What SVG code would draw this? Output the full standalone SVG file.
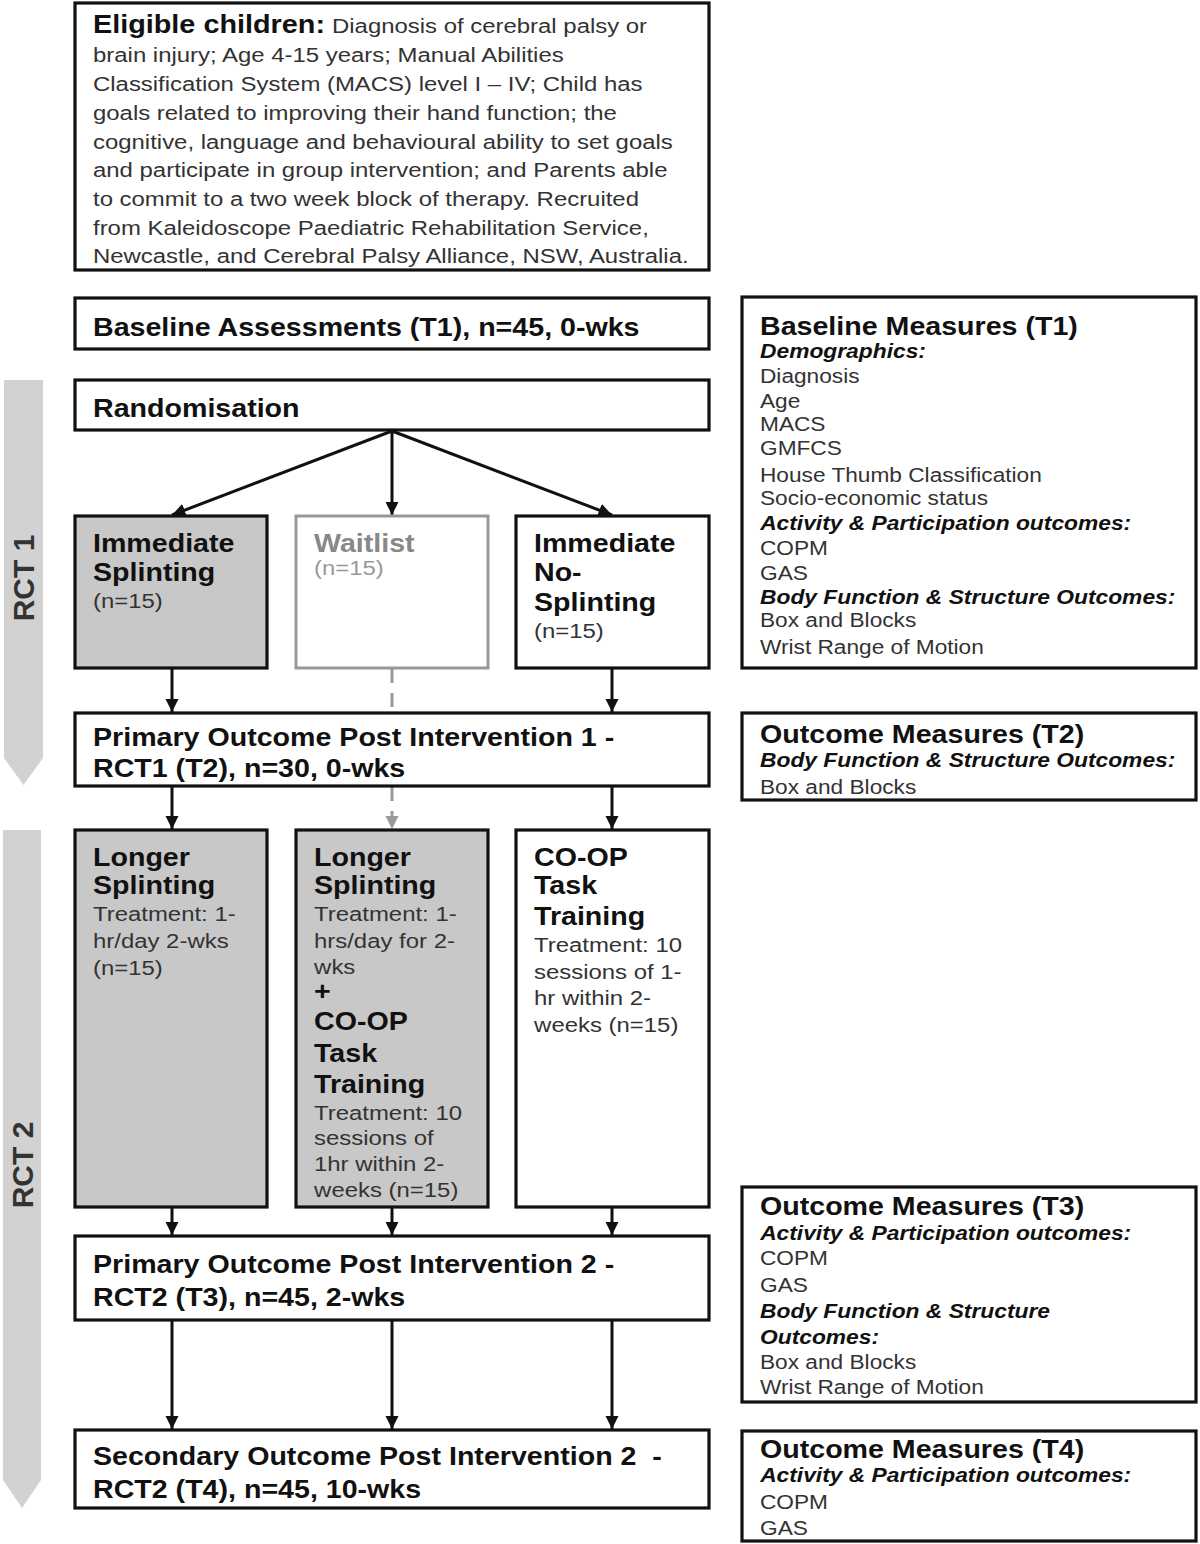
<svg xmlns="http://www.w3.org/2000/svg" width="1200" height="1544" viewBox="0 0 1200 1544">
<style>
text{font-family:"Liberation Sans",Arial,sans-serif;}
.box{fill:#fff;stroke:#111;stroke-width:3.2;}
.grey{fill:#c8c8c8;stroke:#111;stroke-width:3.2;}
.wait{fill:#fff;stroke:#999;stroke-width:3;}
.h,.t,.r,.bi,.e{transform-box:fill-box;transform-origin:0 0;}
.h{font-size:26px;font-weight:bold;fill:#111;transform:scaleX(1.1);}
.e{font-size:25.5px;font-weight:bold;fill:#111;transform:scaleX(1.13);}
.t{font-size:21px;fill:#333;transform:scaleX(1.14);}
.r{font-size:21px;fill:#333;transform:scaleX(1.08);}
.bi{font-size:20px;font-weight:bold;font-style:italic;fill:#111;transform:scaleX(1.14);}
.c{stroke:#111;stroke-width:3;fill:none;}
.dash{stroke:#999;stroke-width:3;fill:none;stroke-dasharray:14,10;}
.band{fill:#d2d2d2;}
.rct{font-size:30px;font-weight:bold;fill:#333;}
</style>
<defs>
<marker id="ah" viewBox="0 0 10 10" refX="10" refY="5" markerWidth="4.5" markerHeight="4.5" orient="auto" markerUnits="strokeWidth"><path d="M0,0 L10,5 L0,10 z" fill="#111"/></marker>
<marker id="ahg" viewBox="0 0 10 10" refX="10" refY="5" markerWidth="4.5" markerHeight="4.5" orient="auto" markerUnits="strokeWidth"><path d="M0,0 L10,5 L0,10 z" fill="#999"/></marker>
</defs>

<g id="rct1">
<path class="band" d="M4,380 H43 V758 L23.5,785 L4,758 Z"/>
<text class="rct" transform="translate(34,578) rotate(-90)" text-anchor="middle">RCT 1</text>
</g>
<g id="rct2">
<path class="band" d="M3,830 H41 V1480 L22,1508 L3,1480 Z"/>
<text class="rct" transform="translate(33,1165) rotate(-90)" text-anchor="middle">RCT 2</text>
</g>

<g id="connectors">
<path class="c" d="M392,431 L172,515" marker-end="url(#ah)"/>
<path class="c" d="M392,431 L392,515" marker-end="url(#ah)"/>
<path class="c" d="M392,431 L612,515" marker-end="url(#ah)"/>
<path class="c" d="M172,669 V712" marker-end="url(#ah)"/>
<path class="c" d="M612,669 V712" marker-end="url(#ah)"/>
<path class="dash" d="M392,669 V712"/>
<path class="dash" d="M392,787 V829" marker-end="url(#ahg)"/>
<path class="c" d="M172,787 V829" marker-end="url(#ah)"/>
<path class="c" d="M612,787 V829" marker-end="url(#ah)"/>
<path class="c" d="M172,1208 V1235" marker-end="url(#ah)"/>
<path class="c" d="M392,1208 V1235" marker-end="url(#ah)"/>
<path class="c" d="M612,1208 V1235" marker-end="url(#ah)"/>
<path class="c" d="M172,1321 V1429" marker-end="url(#ah)"/>
<path class="c" d="M392,1321 V1429" marker-end="url(#ah)"/>
<path class="c" d="M612,1321 V1429" marker-end="url(#ah)"/>
</g>

<g id="eligible">
<rect class="box" x="75" y="3" width="634" height="267"/>
<text class="e" x="93" y="33">Eligible children:</text>
<text class="t" x="332" y="33">Diagnosis of cerebral palsy or</text>
<text class="t" x="93" y="62">brain injury; Age 4-15 years; Manual Abilities</text>
<text class="t" x="93" y="91">Classification System (MACS) level I – IV; Child has</text>
<text class="t" x="93" y="120">goals related to improving their hand function; the</text>
<text class="t" x="93" y="149">cognitive, language and behavioural ability to set goals</text>
<text class="t" x="93" y="177">and participate in group intervention; and Parents able</text>
<text class="t" x="93" y="206">to commit to a two week block of therapy. Recruited</text>
<text class="t" x="93" y="235">from Kaleidoscope Paediatric Rehabilitation Service,</text>
<text class="t" x="93" y="263">Newcastle, and Cerebral Palsy Alliance, NSW, Australia.</text>
</g>

<g id="baseline">
<rect class="box" x="75" y="298" width="634" height="51"/>
<text class="h" x="93" y="336">Baseline Assessments (T1), n=45, 0-wks</text>
</g>

<g id="randomisation">
<rect class="box" x="75" y="380" width="634" height="50"/>
<text class="h" x="93" y="417">Randomisation</text>
</g>

<g id="immediate-splinting">
<rect class="grey" x="75" y="516" width="192" height="152"/>
<text class="h" x="93" y="552">Immediate</text>
<text class="h" x="93" y="581">Splinting</text>
<text class="t" x="93" y="608" font-size="20">(n=15)</text>
</g>

<g id="waitlist">
<rect class="wait" x="296" y="516" width="192" height="152"/>
<text class="h" x="314" y="552" style="fill:#888">Waitlist</text>
<text class="t" x="314" y="575" font-size="20" style="fill:#999">(n=15)</text>
</g>

<g id="immediate-no-splinting">
<rect class="box" x="516" y="516" width="193" height="152"/>
<text class="h" x="534" y="552">Immediate</text>
<text class="h" x="534" y="581">No-</text>
<text class="h" x="534" y="611">Splinting</text>
<text class="t" x="534" y="638" font-size="20">(n=15)</text>
</g>

<g id="primary-1">
<rect class="box" x="75" y="713" width="634" height="73"/>
<text class="h" x="93" y="746">Primary Outcome Post Intervention 1 -</text>
<text class="h" x="93" y="777">RCT1 (T2), n=30, 0-wks</text>
</g>

<g id="longer-splinting">
<rect class="grey" x="75" y="830" width="192" height="377"/>
<text class="h" x="93" y="866">Longer</text>
<text class="h" x="93" y="894">Splinting</text>
<text class="t" x="93" y="921">Treatment: 1-</text>
<text class="t" x="93" y="948">hr/day 2-wks</text>
<text class="t" x="93" y="975">(n=15)</text>
</g>

<g id="longer-splinting-coop">
<rect class="grey" x="296" y="830" width="192" height="377"/>
<text class="h" x="314" y="866">Longer</text>
<text class="h" x="314" y="894">Splinting</text>
<text class="t" x="314" y="921">Treatment: 1-</text>
<text class="t" x="314" y="948">hrs/day for 2-</text>
<text class="t" x="314" y="974">wks</text>
<text class="h" x="314" y="1000" font-size="20">+</text>
<text class="h" x="314" y="1030">CO-OP</text>
<text class="h" x="314" y="1062">Task</text>
<text class="h" x="314" y="1093">Training</text>
<text class="t" x="314" y="1120">Treatment: 10</text>
<text class="t" x="314" y="1145">sessions of</text>
<text class="t" x="314" y="1171">1hr within 2-</text>
<text class="t" x="314" y="1197">weeks (n=15)</text>
</g>

<g id="coop">
<rect class="box" x="516" y="830" width="193" height="377"/>
<text class="h" x="534" y="866">CO-OP</text>
<text class="h" x="534" y="894">Task</text>
<text class="h" x="534" y="925">Training</text>
<text class="t" x="534" y="952">Treatment: 10</text>
<text class="t" x="534" y="979">sessions of 1-</text>
<text class="t" x="534" y="1005">hr within 2-</text>
<text class="t" x="534" y="1032">weeks (n=15)</text>
</g>

<g id="primary-2">
<rect class="box" x="75" y="1236" width="634" height="84"/>
<text class="h" x="93" y="1273">Primary Outcome Post Intervention 2 -</text>
<text class="h" x="93" y="1306">RCT2 (T3), n=45, 2-wks</text>
</g>

<g id="secondary">
<rect class="box" x="75" y="1430" width="634" height="78"/>
<text class="h" x="93" y="1465">Secondary Outcome Post Intervention 2&#160; -</text>
<text class="h" x="93" y="1498">RCT2 (T4), n=45, 10-wks</text>
</g>

<g id="baseline-measures">
<rect class="box" x="742" y="297" width="454" height="371"/>
<text class="h" x="760" y="335">Baseline Measures (T1)</text>
<text class="bi" x="760" y="358">Demographics:</text>
<text class="r" x="760" y="383">Diagnosis</text>
<text class="r" x="760" y="408">Age</text>
<text class="r" x="760" y="431">MACS</text>
<text class="r" x="760" y="455">GMFCS</text>
<text class="r" x="760" y="482">House Thumb Classification</text>
<text class="r" x="760" y="505">Socio-economic status</text>
<text class="bi" x="760" y="530">Activity &amp; Participation outcomes:</text>
<text class="r" x="760" y="555">COPM</text>
<text class="r" x="760" y="580">GAS</text>
<text class="bi" x="760" y="604">Body Function &amp; Structure Outcomes:</text>
<text class="r" x="760" y="627">Box and Blocks</text>
<text class="r" x="760" y="654">Wrist Range of Motion</text>
</g>

<g id="outcome-t2">
<rect class="box" x="742" y="713" width="454" height="87"/>
<text class="h" x="760" y="743">Outcome Measures (T2)</text>
<text class="bi" x="760" y="767">Body Function &amp; Structure Outcomes:</text>
<text class="r" x="760" y="794">Box and Blocks</text>
</g>

<g id="outcome-t3">
<rect class="box" x="742" y="1187" width="454" height="215"/>
<text class="h" x="760" y="1215">Outcome Measures (T3)</text>
<text class="bi" x="760" y="1240">Activity &amp; Participation outcomes:</text>
<text class="r" x="760" y="1265">COPM</text>
<text class="r" x="760" y="1292">GAS</text>
<text class="bi" x="760" y="1318">Body Function &amp; Structure</text>
<text class="bi" x="760" y="1344">Outcomes:</text>
<text class="r" x="760" y="1369">Box and Blocks</text>
<text class="r" x="760" y="1394">Wrist Range of Motion</text>
</g>

<g id="outcome-t4">
<rect class="box" x="742" y="1431" width="454" height="110"/>
<text class="h" x="760" y="1458">Outcome Measures (T4)</text>
<text class="bi" x="760" y="1482">Activity &amp; Participation outcomes:</text>
<text class="r" x="760" y="1509">COPM</text>
<text class="r" x="760" y="1535">GAS</text>
</g>
</svg>
